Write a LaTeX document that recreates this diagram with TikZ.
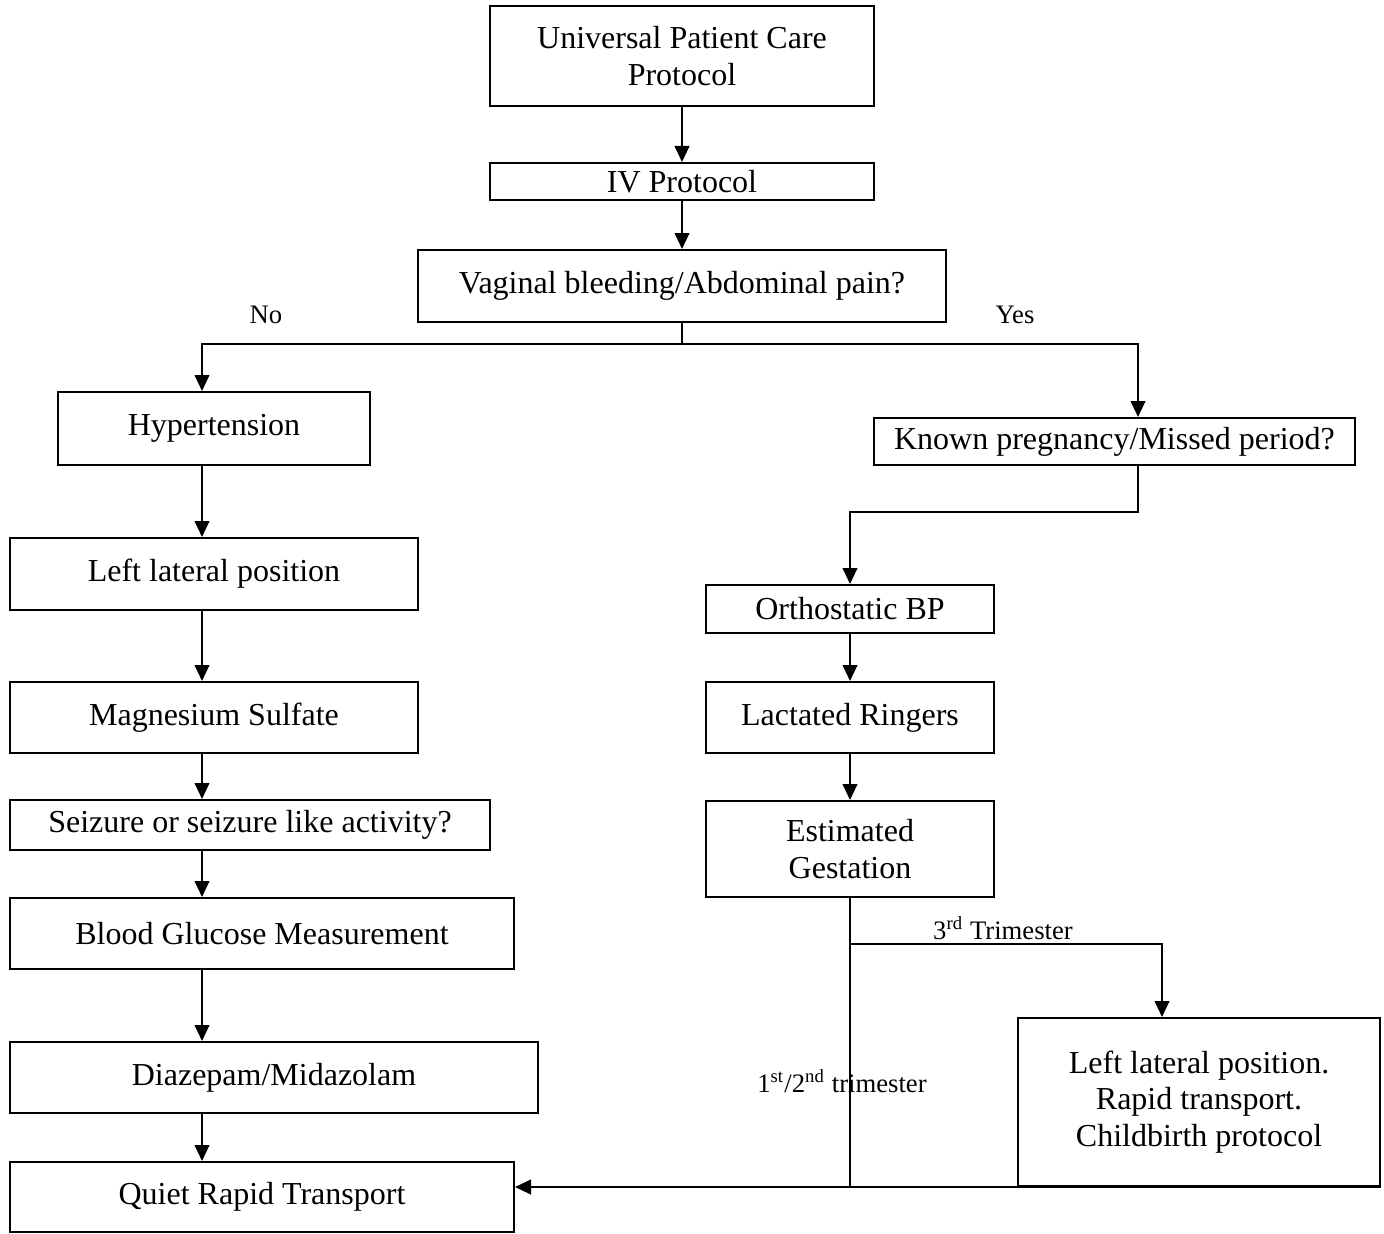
\documentclass[tikz,border=0pt]{standalone}
\usepackage{fontspec}
\setmainfont{Liberation Serif}
\usetikzlibrary{arrows.meta,positioning}

\begin{document}
\begin{tikzpicture}[
x=0.375pt,y=-0.375pt,
box/.style={draw,line width=0.75pt,align=center,inner sep=0pt,font=\fontsize{12}{13.6}\selectfont},
lbl/.style={font=\fontsize{10}{12}\selectfont,inner sep=0pt},
arr/.style={-{Triangle[length=6pt,width=5.5pt]},line width=0.75pt},
ln/.style={line width=0.75pt}
]
\useasboundingbox (0,0) rectangle (1384,1234);
% left column
\node[box,minimum width=144pt,minimum height=37.5pt] (upc) at (682,56) {Universal Patient Care\\Protocol};
\node[box,minimum width=144pt,minimum height=13.875pt] (iv) at (682,181.5) {IV Protocol};
\node[box,minimum width=198pt,minimum height=27pt] (vb) at (682,286) {Vaginal bleeding/Abdominal pain?};
\node[box,minimum width=117pt,minimum height=27.375pt] (hyp) at (214,428.5) {Hypertension};
\node[box,minimum width=153pt,minimum height=27pt] (llp) at (214,574) {Left lateral position};
\node[box,minimum width=153pt,minimum height=26.625pt] (mag) at (214,717.5) {Magnesium Sulfate};
\node[box,minimum width=180pt,minimum height=18.75pt] (seiz) at (250,825) {Seizure or seizure like activity?};
\node[box,minimum width=189pt,minimum height=26.625pt] (bgm) at (262,933.5) {Blood Glucose Measurement};
\node[box,minimum width=198pt,minimum height=26.625pt] (diaz) at (274,1077.5) {Diazepam/Midazolam};
\node[box,minimum width=189pt,minimum height=26.25pt] (quiet) at (262,1197) {Quiet Rapid Transport};
% right column
\node[box,minimum width=180.375pt,minimum height=17.625pt] (known) at (1114.5,441.5) {Known pregnancy/Missed period?};
\node[box,minimum width=108pt,minimum height=18pt] (ortho) at (850,609) {Orthostatic BP};
\node[box,minimum width=108pt,minimum height=26.625pt] (lr) at (850,717.5) {Lactated Ringers};
\node[box,minimum width=108pt,minimum height=36pt] (est) at (850,849) {Estimated\\Gestation};
\node[box,minimum width=135.75pt,minimum height=63pt] (final) at (1199,1102) {Left lateral position.\\Rapid transport.\\Childbirth protocol};
% labels
\node[lbl] (no) at (266,315) {No};
\node[lbl] (yes) at (1015,315) {Yes};
\node[lbl] (third) at (1003,928) {3\textsuperscript{rd} Trimester};
\node[lbl] (early) at (842,1081) {1\textsuperscript{st}/2\textsuperscript{nd} trimester};
% turning points
\coordinate (split) at (682,344);
\coordinate (spine) at (202,344);
\coordinate (rspine) at (1138,344);
\coordinate (kbend) at (1138,512);
\coordinate (tri) at (850,944);
\coordinate (fx) at (1162,944);
% connectors
\draw[arr] (upc)--(iv);
\draw[arr] (iv)--(vb);
\draw[ln] (vb.south)--(split);
\draw[arr] (split) -| (hyp.north -| spine);
\draw[arr] (split) -| (known.north -| rspine);
\draw[arr] (hyp.south -| spine)--(llp.north -| spine);
\draw[arr] (llp.south -| spine)--(mag.north -| spine);
\draw[arr] (mag.south -| spine)--(seiz.north -| spine);
\draw[arr] (seiz.south -| spine)--(bgm.north -| spine);
\draw[arr] (bgm.south -| spine)--(diaz.north -| spine);
\draw[arr] (diaz.south -| spine)--(quiet.north -| spine);
\draw[arr] (known.south -| rspine)--(kbend) -| (ortho.north);
\draw[arr] (ortho)--(lr);
\draw[arr] (lr)--(est);
\draw[ln] (est.south)--(est.south |- final.south);
\draw[arr] (tri)--(fx)--(final.north -| fx);
\draw[arr] (final.south east)--(final.south east -| quiet.east);
\end{tikzpicture}
\end{document}
